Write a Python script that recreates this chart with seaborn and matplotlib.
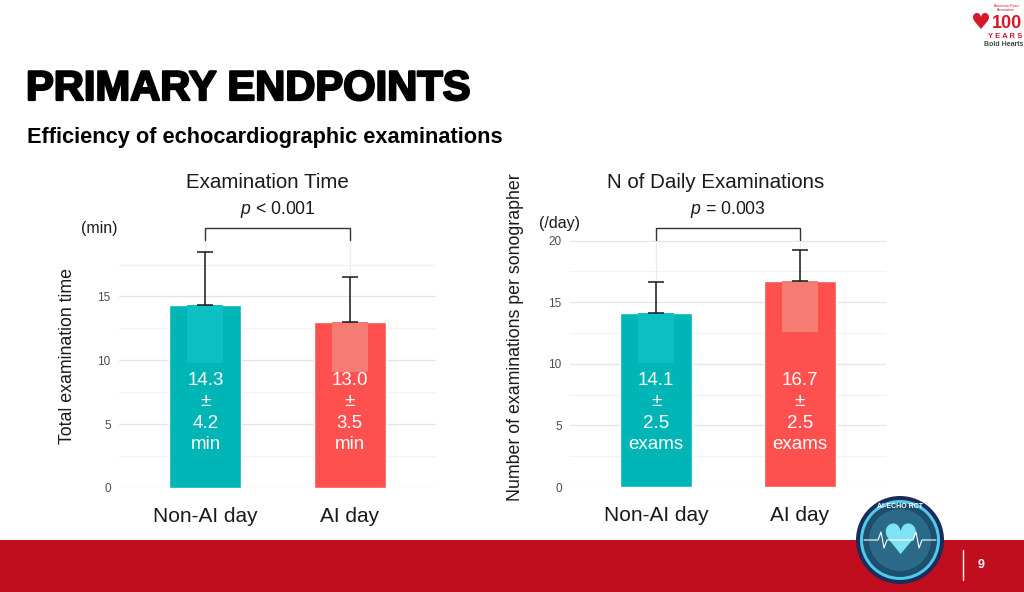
import matplotlib
matplotlib.use("Agg")
import matplotlib.pyplot as plt
import seaborn as sns
import pandas as pd
import numpy as np
from matplotlib.transforms import blended_transform_factory
from matplotlib.patches import Rectangle, Circle
import matplotlib.patheffects as pe

# ---------------- data ----------------
categories = ["Non-AI day", "AI day"]
time_mean = [14.3, 13.0]
time_sd = [4.2, 3.5]
exam_mean = [14.1, 16.7]
exam_sd = [2.5, 2.5]
time_p = "$p$ < 0.001"
exam_p = "$p$ = 0.003"
time_unit = "min"
exam_unit = "exams"
time_ticks = [0, 5, 10, 15]
exam_ticks = [0, 5, 10, 15, 20]

# ---------------- style ----------------
sns.set_theme(style="white")
plt.rcParams['font.family'] = ['Liberation Sans', 'DejaVu Sans']
plt.rcParams['mathtext.fontset'] = 'custom'
plt.rcParams['mathtext.it'] = 'Liberation Sans:italic'
plt.rcParams['mathtext.rm'] = 'Liberation Sans'

W, H = 1024, 592
fig = plt.figure(figsize=(W / 100, H / 100), dpi=100)
fig.patch.set_facecolor("white")


def fx(px):
    return px / W


def fy(py):
    return 1 - py / H


TEAL, RED = "#00B5B5", "#FF5050"
TEAL_L, RED_L = "#0BBFC2", "#F47C72"
INK = "#1A1A1A"

panels = [
    dict(mean=time_mean, sd=time_sd, unit=time_unit, p=time_p, ticks=time_ticks,
         title="Examination Time", ylabel="Total examination time", yunit="(min)",
         left=119, right=436, base=488, ppu=12.77, ytop=19.42,
         title_x=267, yunit_xy=(99, 228), ylabel_xy=(67, 356), hl=[9.8, 9.1]),
    dict(mean=exam_mean, sd=exam_sd, unit=exam_unit, p=exam_p, ticks=exam_ticks,
         title="N of Daily Examinations", ylabel="Number of examinations per sonographer",
         yunit="(/day)", left=570, right=886, base=487, ppu=12.32, ytop=20.1,
         title_x=716, yunit_xy=(559, 223), ylabel_xy=(515, 337), hl=[10.1, 12.6]),
]

for P in panels:
    ax = fig.add_axes([fx(P["left"]), fy(P["base"]), (P["right"] - P["left"]) / W,
                       P["ytop"] * P["ppu"] / H])
    df = pd.DataFrame({"group": categories, "value": P["mean"]})
    sns.barplot(data=df, x="group", y="value", hue="group", palette=[TEAL, RED],
                width=0.5, saturation=1, errorbar=None, legend=False, ax=ax, zorder=2)
    ax.set_xlim(-0.6, 1.6)
    ax.set_ylim(0, P["ytop"])
    # lighter inner boxes
    for i, (m, lc) in enumerate(zip(P["mean"], [TEAL_L, RED_L])):
        ax.add_patch(Rectangle((i - 0.125, P["hl"][i]), 0.25, m - P["hl"][i],
                               facecolor=lc, lw=0, zorder=2.5))
    ax.errorbar(np.arange(len(categories)), P["mean"],
                yerr=[np.zeros(len(categories)), P["sd"]], fmt="none",
                ecolor=INK, elinewidth=1.1, capsize=5.5, capthick=1.1,
                zorder=3, clip_on=False)
    # grid
    ax.set_yticks(P["ticks"])
    minor = [t + 2.5 for t in P["ticks"] if t + 2.5 < P["ytop"]]
    ax.set_yticks(minor, minor=True)
    ax.grid(axis="y", which="major", color="#E4E4E4", lw=0.9)
    ax.grid(axis="y", which="minor", color="#F1F1F1", lw=0.8)
    ax.grid(axis="x", which="major", color="#ECECEC", lw=0.9)
    ax.set_axisbelow(True)
    for s in ax.spines.values():
        s.set_visible(False)
    ax.tick_params(axis="y", which="both", length=0, labelsize=8.5,
                   labelcolor="#4D4D4D", pad=6)
    ax.tick_params(axis="x", length=5, color="#D0D0D0", width=0.9,
                   labelsize=15, labelcolor=INK, pad=8.5)
    ax.set_xlabel("")
    ax.set_ylabel("")

    tr = blended_transform_factory(ax.transData, fig.transFigure)
    # bar annotations
    for i, (m, s) in enumerate(zip(P["mean"], P["sd"])):
        ax.text(i, fy(412.5), f"{m:.1f}\n±\n{s:.1f}\n{P['unit']}", transform=tr,
                ha="center", va="center", color="white", fontsize=13.5,
                linespacing=1.34, zorder=4)
    # significance bracket
    ax.plot([0, 0, 1, 1], [fy(240), fy(228), fy(228), fy(240)], transform=tr,
            color="#333333", lw=1.0, clip_on=False, zorder=4)
    ax.text(0.5, fy(209), P["p"], transform=tr, ha="center", va="center",
            fontsize=12.7, color=INK)
    fig.text(fx(P["title_x"]), fy(182), P["title"], ha="center", va="center",
             fontsize=14.8, color=INK)
    fig.text(fx(P["yunit_xy"][0]), fy(P["yunit_xy"][1]), P["yunit"], ha="center",
             va="center", fontsize=11.5, color=INK)
    fig.text(fx(P["ylabel_xy"][0]), fy(P["ylabel_xy"][1]), P["ylabel"], ha="center",
             va="center", rotation=90, fontsize=12.8, color=INK)

# ---------------- slide decoration ----------------
ov = fig.add_axes([0, 0, 1, 1], zorder=-1)
ov.set_xlim(0, W)
ov.set_ylim(H, 0)
ov.axis("off")
ov.patch.set_alpha(0)

ov.add_patch(Rectangle((0, 540), W, 52, facecolor="#C00E1F", lw=0))
ov.plot([963, 963], [550, 580], color="white", lw=1)
ov.text(981, 565, "9", color="white", fontsize=9, fontweight="bold",
        ha="center", va="center")

# AI-ECHO RCT badge
cx, cy = 900, 540
for r, c in [(44, "#1B2B5A"), (40, "#4FCBEA"), (37, "#1E4E6E"), (31, "#2A6A88")]:
    ov.add_patch(Circle((cx, cy), r, facecolor=c, lw=0, zorder=3))
ov.text(cx, cy - 33, "AI-ECHO RCT", color="white", fontsize=5, fontweight="bold",
        ha="center", va="center", zorder=4)
ov.text(cx, cy + 2, "♥", color="#7FE3F7", fontsize=30, ha="center", va="center",
        family="DejaVu Sans", zorder=4)
ov.plot([cx - 36, cx - 22, cx - 19, cx - 16, cx - 13, cx + 13, cx + 16, cx + 19, cx + 22, cx + 36],
        [cy, cy, cy - 8, cy + 8, cy, cy, cy - 8, cy + 8, cy, cy],
        color="white", lw=0.8, zorder=4)

# AHA 100 years logo
ov.text(981, 23, "♥", color="#D7182A", fontsize=16, ha="center", va="center",
        family="DejaVu Sans")
ov.text(1007, 23, "100", color="#D7182A", fontsize=13, fontweight="bold",
        ha="center", va="center")
ov.text(1005, 37, "Y E A R S", color="#D7182A", fontsize=5.5, fontweight="bold",
        ha="center", va="center")
ov.text(1004, 45, "Bold Hearts", color="#444444", fontsize=5, fontweight="bold",
        ha="center", va="center")
ov.text(1006, 8, "American Heart\nAssociation", color="#D7182A", fontsize=2.5,
        ha="center", va="center", linespacing=1.0)

# slide title
fig.text(fx(26), fy(100), "PRIMARY ENDPOINTS", fontsize=30, fontweight="bold",
         ha="left", va="baseline", color="black",
         path_effects=[pe.withStroke(linewidth=1.6, foreground="black")])
fig.text(fx(27), fy(143), "Efficiency of echocardiographic examinations",
         fontsize=15.7, fontweight="bold", ha="left", va="baseline", color="black")

fig.savefig("out.png", dpi=100, facecolor="white")
